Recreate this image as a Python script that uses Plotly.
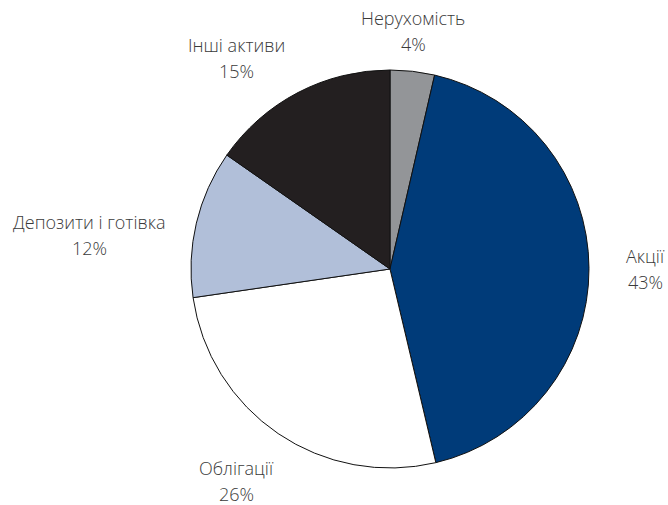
import plotly.graph_objects as go

labels = ["Нерухомість", "Акції", "Облігації", "Депозити і готівка", "Інші активи"]
values = [3.6, 42.7, 26.4, 12.0, 15.3]
colors = ["#939598", "#003b79", "#ffffff", "#b1bfd9", "#231f20"]

# label positions in pixels (centre x, centre y of the first line)
label_pos = [(413, 18), (645, 256), (236, 468), (89, 222), (236, 45)]

W, H = 668, 505
cx, cy, r = 390, 269, 199

fig = go.Figure()
fig.add_trace(
    go.Pie(
        labels=labels,
        values=values,
        sort=False,
        direction="clockwise",
        rotation=0,
        marker=dict(colors=colors, line=dict(color="#111111", width=1)),
        textinfo="none",
        hoverinfo="label+percent",
        showlegend=False,
        domain=dict(
            x=[(cx - r) / W, (cx + r) / W],
            y=[1 - (cy + r) / H, 1 - (cy - r) / H],
        ),
    )
)

total = sum(values)
font = dict(family="Open Sans", size=18, color="#3a3a3a", weight=300)
for lab, val, (px, py) in zip(labels, values, label_pos):
    pct = f"{round(val / total * 100):d}%"
    for txt, dy in ((lab, 0), (pct, 26)):
        fig.add_annotation(
            x=px / W,
            y=1 - (py + dy) / H,
            xref="paper",
            yref="paper",
            text=txt,
            showarrow=False,
            xanchor="center",
            yanchor="middle",
            font=font,
        )

fig.update_layout(
    width=W,
    height=H,
    margin=dict(l=0, r=0, t=0, b=0),
    paper_bgcolor="white",
    plot_bgcolor="white",
)

fig.write_html(
    "out.html",
    config={"displayModeBar": False},
    post_script="document.body.style.margin='0';",
)
